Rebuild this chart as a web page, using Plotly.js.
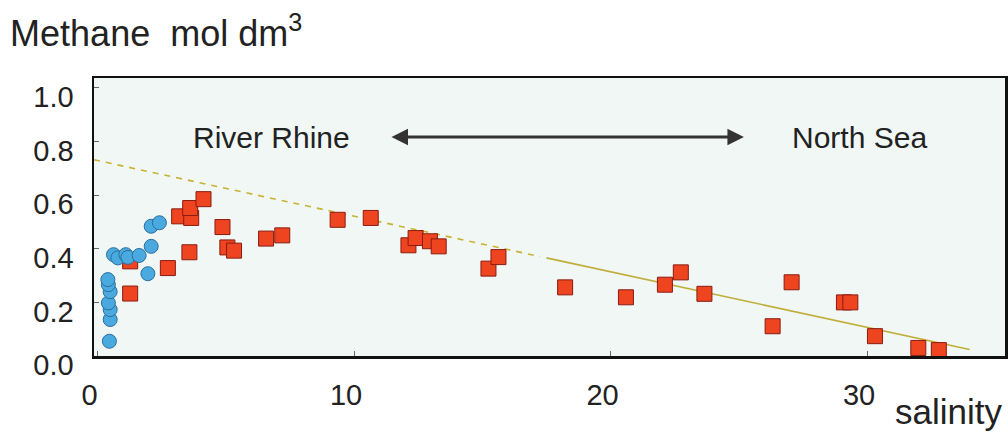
<!DOCTYPE html>
<html>
<head>
<meta charset="utf-8">
<script src="https://cdn.plot.ly/plotly-3.0.1.min.js"></script>
<style>html,body{margin:0;padding:0;background:#fff;}#chart{width:1008px;height:434px;}</style>
</head>
<body>
<div id="chart"></div>
<script>
// River water samples (blue circles)
const riverSalinity = [0.46, 0.49, 0.49, 0.42, 0.49, 0.42, 0.40, 0.62, 0.79, 1.10, 1.18, 1.62, 1.96, 2.09, 2.09, 2.41];
const riverMethane  = [0.055, 0.136, 0.173, 0.198, 0.240, 0.266, 0.285, 0.378, 0.366, 0.378, 0.368, 0.375, 0.307, 0.409, 0.484, 0.497];

// Estuary / North Sea samples (red squares)
const seaSalinity = [1.27, 1.27, 2.74, 3.58, 3.18, 3.65, 3.61, 4.13, 4.87, 5.06, 5.32, 6.57, 7.20, 9.36, 10.65,
                     12.12, 12.40, 12.96, 13.30, 15.24, 15.63, 18.23, 20.60, 22.12, 22.74, 23.66, 26.32, 27.06,
                     29.10, 29.35, 30.31, 32.00, 32.80];
const seaMethane  = [0.233, 0.353, 0.328, 0.387, 0.521, 0.515, 0.552, 0.585, 0.481, 0.405, 0.393, 0.438, 0.450, 0.508, 0.515,
                     0.413, 0.440, 0.428, 0.409, 0.326, 0.369, 0.256, 0.219, 0.266, 0.312, 0.232, 0.111, 0.275,
                     0.200, 0.200, 0.074, 0.030, 0.022];

// Mixing line (dashed extrapolation, solid fitted part)
const dashedLineX = [-0.14, 17.25];
const dashedLineY = [0.732, 0.371];
const solidLineX  = [17.5, 34.0];
const solidLineY  = [0.366, 0.024];

// Axis ticks
const xTicks = [0, 10, 20, 30];
const yTicks = [0.0, 0.2, 0.4, 0.6, 0.8, 1.0];
const yTickText = ['0.0', '0.2', '0.4', '0.6', '0.8', '1.0'];

const FONT = 'Liberation Sans, Arial, sans-serif';

const traces = [
  {x: dashedLineX, y: dashedLineY, mode: 'lines', line: {color: '#c8b233', width: 1.6, dash: '6px,6px'}, hoverinfo: 'skip', showlegend: false},
  {x: solidLineX, y: solidLineY, mode: 'lines', line: {color: '#bfae3a', width: 1.6}, hoverinfo: 'skip', showlegend: false},
  {x: seaSalinity, y: seaMethane, mode: 'markers', showlegend: false,
   marker: {symbol: 'square', size: 15, color: '#ee4420', line: {color: '#8a1c10', width: 1}}},
  {x: riverSalinity, y: riverMethane, mode: 'markers', showlegend: false,
   marker: {symbol: 'circle', size: 14, color: '#4aaae0', line: {color: '#2a6f9e', width: 1}}}
];

const layout = {
  width: 1008, height: 434,
  margin: {l: 94, r: 3, t: 78, b: 78},
  paper_bgcolor: '#ffffff',
  plot_bgcolor: '#f0f7f5',
  font: {family: FONT, color: '#222'},
  title: {text: 'Methane&nbsp;&nbsp;mol dm<sup>3</sup>', font: {family: FONT, size: 36, color: '#222'},
          x: 0.01, xanchor: 'left', xref: 'container', y: 0.952, yanchor: 'top', yref: 'container'},
  xaxis: {range: [-0.14, 35.38], tickvals: xTicks, ticktext: xTicks.map(String),
          ticks: 'inside', ticklen: 5, tickwidth: 1, tickcolor: '#666',
          showline: true, linecolor: '#111', linewidth: 2.5, mirror: true,
          showgrid: false, zeroline: false, tickfont: {size: 29, color: '#222'},
          ticklabelstandoff: 12, ticklabelshift: -8, fixedrange: true},
  yaxis: {range: [0, 1.037], tickvals: yTicks, ticktext: yTickText,
          ticks: 'inside', ticklen: 5, tickwidth: 1, tickcolor: '#666',
          showline: true, linecolor: '#111', linewidth: 2.5, mirror: true,
          showgrid: false, zeroline: false, tickfont: {size: 29, color: '#222'},
          ticklabelstandoff: 12, ticklabelshift: 9, fixedrange: true},
  annotations: [
    {text: 'River Rhine', x: 6.8, y: 0.814, xref: 'x', yref: 'y', showarrow: false,
     font: {family: FONT, size: 30, color: '#222'}},
    {text: 'North Sea', x: 29.7, y: 0.814, xref: 'x', yref: 'y', showarrow: false,
     font: {family: FONT, size: 30, color: '#222'}},
    {text: '', x: 25.2, y: 0.817, ax: 11.4, ay: 0.817, xref: 'x', yref: 'y', axref: 'x', ayref: 'y',
     showarrow: true, arrowhead: 2, arrowside: 'end+start', arrowsize: 1.1, arrowwidth: 3, arrowcolor: '#333'},
    {text: 'salinity', x: 1, xanchor: 'right', xref: 'paper', y: -(411 - 356) / 278, yanchor: 'middle', yref: 'paper',
     showarrow: false, xshift: -1, font: {family: FONT, size: 35, color: '#222'}}
  ]
};

Plotly.newPlot('chart', traces, layout, {staticPlot: true, displayModeBar: false});
</script>
</body>
</html>
